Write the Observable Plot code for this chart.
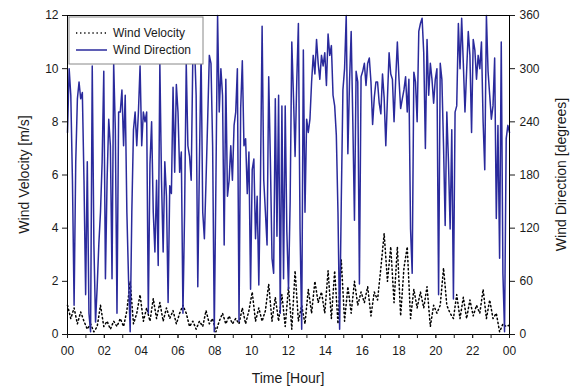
<!DOCTYPE html>
<html><head><meta charset="utf-8">
<script src="https://cdn.jsdelivr.net/npm/d3@7"></script>
<script src="https://cdn.jsdelivr.net/npm/@observablehq/plot@0.6"></script>
<style>
html,body{margin:0;padding:0;background:#fff;}
svg text{font-family:Arial,"Liberation Sans",sans-serif;}
</style></head><body>
<script>
// ---- data ----
const seriesNames = ["Wind Velocity", "Wind Direction"];
const hourTicks = [0,2,4,6,8,10,12,14,16,18,20,22,24];
const hourLabels = ["00","02","04","06","08","10","12","14","16","18","20","22","00"];
const hourMinorTicks = [0,1,2,3,4,5,6,7,8,9,10,11,12,13,14,15,16,17,18,19,20,21,22,23,24];
const velocityTicks = [0,2,4,6,8,10,12];
const directionTicks = [0,60,120,180,240,300,360];
const axisTitles = ["Time [Hour]", "Wind Velocity [m/s]", "Wind Direction [degrees]"];

// wind direction [degrees], regularly sampled over the 24 h
const windDirection = [
228,300,270,174,33,195,266,285,266,273,174,45,195,24,3,303,102,14,54,102,138,195,297,63,174,243,213,63,306,231,24,251,
251,276,213,270,138,63,3,138,231,251,213,251,303,213,251,240,251,24,192,240,138,93,174,78,306,174,93,195,156,36,168,159,279,183,
282,251,183,206,24,138,306,213,201,174,315,330,270,54,195,318,138,108,174,243,315,306,213,3,174,360,251,300,270,101,288,156,174,213,
174,236,251,300,15,255,309,213,221,159,206,51,186,198,108,156,56,174,348,174,138,101,291,198,86,69,266,111,270,24,258,63,258,116,
51,150,330,270,201,285,351,119,6,321,138,243,228,243,285,315,294,333,306,288,315,303,318,281,339,315,326,270,258,225,138,6,150,276,
300,360,204,285,342,240,129,297,285,57,291,297,306,281,306,312,285,237,267,285,285,261,249,294,267,213,267,318,294,288,240,288,330,288,
255,266,276,291,251,288,119,69,296,285,240,342,351,357,318,210,333,270,306,288,261,288,300,45,306,288,213,123,251,195,119,231,40,251,
258,351,300,357,306,251,297,342,315,228,333,321,288,315,300,330,240,186,360,297,270,243,258,312,131,236,86,330,69,3,221,236,228
];

// wind velocity [m/s], regularly sampled over the 24 h
const windVelocity = [
1.1,0.6,1.0,0.4,0.85,0.5,0.2,0.4,0.1,0.3,
1.1,0.3,0.5,0.2,0.5,0.3,0.6,0.3,0.9,2.0,
0.4,0.8,1.5,0.5,1.0,0.5,1.35,0.6,1.2,0.5,
1.0,0.6,0.9,0.4,0.8,1.1,0.8,0.3,0.5,0.2,
0.5,0.3,0.9,0.4,0.6,0.1,0.5,0.8,0.4,0.7,
0.4,0.6,0.4,1.0,0.4,0.9,1.6,0.5,1.0,0.5,
0.9,1.9,0.5,1.4,0.5,1.5,0.3,1.8,0.2,2.4,
0.5,1.1,0.4,1.7,0.8,2.0,1.2,1.6,0.8,2.4,
0.6,2.4,0.4,2.8,0.5,1.8,0.8,2.0,1.1,1.6,
1.2,1.8,0.7,1.6,1.3,2.5,3.8,2.0,3.3,1.2,
3.3,0.7,2.5,3.3,0.6,1.7,1.0,1.6,1.0,1.8,
0.3,1.1,0.8,1.1,2.5,1.1,0.8,0.6,1.5,0.6,
1.4,0.6,1.3,0.7,1.1,0.8,1.7,0.6,1.3,0.6,
0.8,0.1,0.4,0.3,0.35
];

(function () {
  // ---- build tables ----
  const dirStep = 24 / (windDirection.length - 1);
  const velStep = 24 / (windVelocity.length - 1);
  const dirData = windDirection.map((d, i) => ({t: i * dirStep, deg: d}));
  const velData = windVelocity.map((v, i) => ({t: i * velStep, v}));
  const degPerUnit = directionTicks[directionTicks.length - 1] / velocityTicks[velocityTicks.length - 1];

  const dirColor = "#2a2a9c";
  const dotDash = "1.3,2.8";
  const font = 'Arial, "Liberation Sans", sans-serif';

  const chart = Plot.plot({
    width: 573, height: 388,
    marginLeft: 67, marginRight: 64, marginTop: 15, marginBottom: 54,
    style: {fontFamily: font, fontSize: "12px", color: "#1a1a1a", background: "#fff", overflow: "visible"},
    x: {domain: [0, 24]},
    y: {domain: [0, 12]},
    marks: [
      Plot.line(velData, {x: "t", y: "v", stroke: "#000", strokeWidth: 1.5, strokeDasharray: dotDash}),
      Plot.line(dirData, {x: "t", y: d => d.deg / degPerUnit, stroke: dirColor, strokeWidth: 1.5}),
      Plot.frame({stroke: "#000", strokeWidth: 1}),
      Plot.axisY(velocityTicks, {anchor: "left", tickSize: 5, tickPadding: 4, label: null}),
      Plot.axisY(directionTicks.map(d => d / degPerUnit), {anchor: "right", tickSize: 5, tickPadding: 5,
        tickFormat: d => String(Math.round(d * degPerUnit)), label: null}),
      Plot.axisX(hourMinorTicks, {tickSize: 4, tickFormat: () => "", label: null}),
      Plot.axisX(hourTicks, {tickSize: 4, tickPadding: 8,
        tickFormat: d => hourLabels[hourTicks.indexOf(d)], label: null})
    ]
  });
  document.body.appendChild(chart);

  // ---- titles & legend ----
  const svg = d3.select(chart);
  const xr = chart.scale("x").range, yr = chart.scale("y").range;
  const pLeft = xr[0], pRight = xr[1], pBottom = yr[0], pTop = yr[1];
  const midY = (pTop + pBottom) / 2;

  svg.append("text").attr("x", (pLeft + pRight) / 2).attr("y", pBottom + 49)
    .attr("text-anchor", "middle").attr("font-size", 14).attr("fill", "#1a1a1a")
    .attr("font-family", font).text(axisTitles[0]);
  svg.append("text").attr("transform", `translate(${pLeft - 38},${midY}) rotate(-90)`)
    .attr("text-anchor", "middle").attr("font-size", 14).attr("fill", "#1a1a1a")
    .attr("font-family", font).text(axisTitles[1]);
  svg.append("text").attr("transform", `translate(${pRight + 57},${midY}) rotate(-90)`)
    .attr("text-anchor", "middle").attr("font-size", 14).attr("fill", "#1a1a1a")
    .attr("font-family", font).text(axisTitles[2]);

  const lg = svg.append("g").attr("transform", `translate(${pLeft + 2},${pTop + 2})`);
  lg.append("rect").attr("width", 134).attr("height", 47).attr("fill", "#fff").attr("stroke", "#888");
  lg.append("line").attr("x1", 7).attr("x2", 38).attr("y1", 16).attr("y2", 16)
    .attr("stroke", "#000").attr("stroke-width", 1.5).attr("stroke-dasharray", dotDash);
  lg.append("line").attr("x1", 7).attr("x2", 38).attr("y1", 33).attr("y2", 33)
    .attr("stroke", dirColor).attr("stroke-width", 1.5);
  lg.append("text").attr("x", 44).attr("y", 16).attr("dy", "0.35em").attr("font-size", 12)
    .attr("text-anchor", "start")
    .attr("fill", "#1a1a1a").attr("font-family", font).text(seriesNames[0]);
  lg.append("text").attr("x", 44).attr("y", 33).attr("dy", "0.35em").attr("font-size", 12)
    .attr("text-anchor", "start")
    .attr("fill", "#1a1a1a").attr("font-family", font).text(seriesNames[1]);
})();
</script>
</body></html>
